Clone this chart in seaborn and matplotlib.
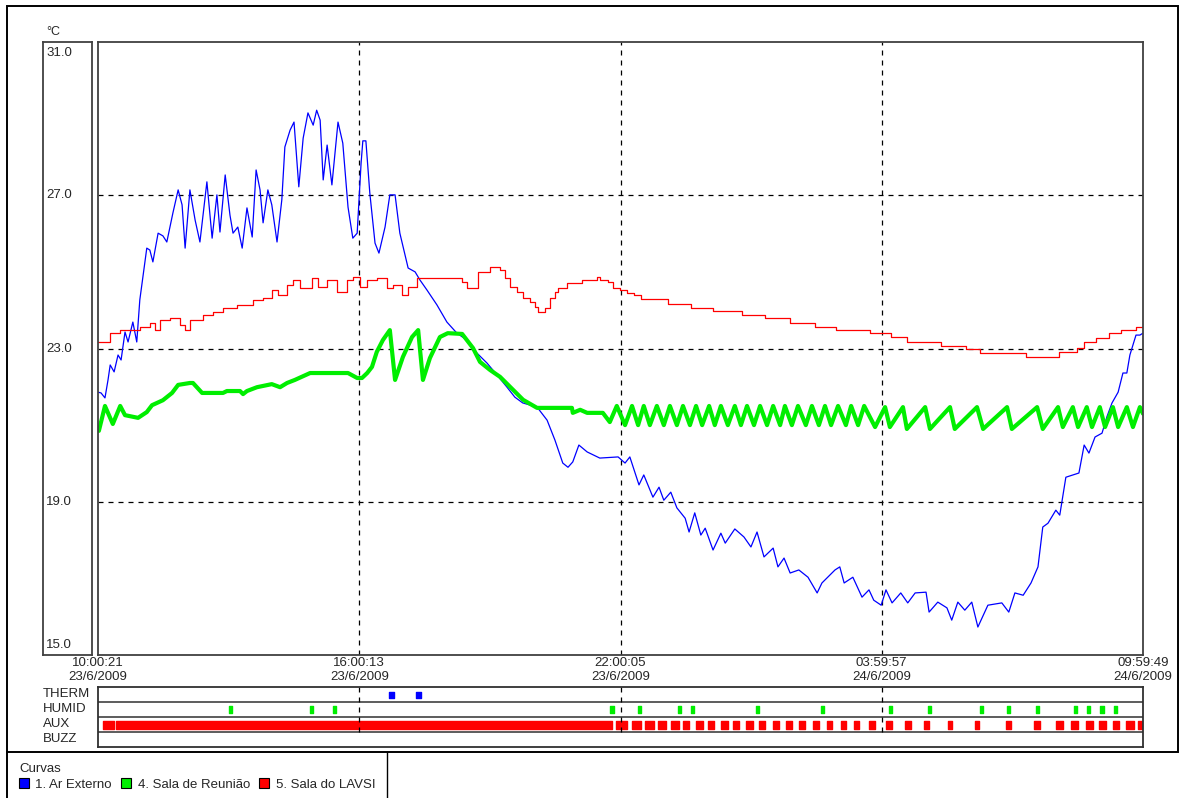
import pandas as pd
import seaborn as sns
import matplotlib.pyplot as plt
from matplotlib.patches import Patch, Rectangle
from matplotlib.lines import Line2D

# time axis: hours elapsed since 23/6/2009 10:00:21
ar_h = [0.00, 0.07, 0.16, 0.23, 0.28, 0.37, 0.46, 0.53, 0.62, 0.69, 0.80, 0.89, 0.96, 1.03,
        1.12, 1.19, 1.26, 1.38, 1.49, 1.58, 1.72, 1.84, 1.93, 2.00, 2.11, 2.23, 2.34, 2.50,
        2.62, 2.73, 2.80, 2.92, 3.03, 3.10, 3.21, 3.31, 3.42, 3.54, 3.63, 3.72, 3.79, 3.90,
        3.99, 4.11, 4.22, 4.29, 4.41, 4.50, 4.61, 4.71, 4.82, 4.94, 5.02, 5.10, 5.17, 5.26,
        5.37, 5.51, 5.62, 5.74, 5.85, 5.95, 6.04, 6.08, 6.15, 6.24, 6.36, 6.45, 6.59, 6.70,
        6.82, 6.93, 7.12, 7.28, 7.39, 7.55, 7.78, 8.01, 8.24, 8.47, 8.70, 8.93, 9.16, 9.39,
        9.57, 9.75, 10.08, 10.31, 10.49, 10.67, 10.79, 10.90, 11.04, 11.23, 11.52, 11.94,
        12.10, 12.21, 12.42, 12.53, 12.74, 12.88, 12.99, 13.15, 13.29, 13.48, 13.57, 13.70,
        13.84, 13.94, 14.12, 14.30, 14.40, 14.62, 14.83, 14.99, 15.13, 15.29, 15.50, 15.61,
        15.75, 15.89, 16.09, 16.30, 16.51, 16.62, 16.92, 17.03, 17.13, 17.33, 17.54, 17.70,
        17.81, 17.98, 18.09, 18.23, 18.43, 18.59, 18.76, 19.01, 19.08, 19.28, 19.49, 19.60,
        19.74, 19.90, 20.06, 20.20, 20.43, 20.75, 20.91, 21.05, 21.24, 21.42, 21.58, 21.69,
        21.81, 21.99, 22.08, 22.22, 22.52, 22.64, 22.75, 22.89, 23.05, 23.16, 23.28, 23.42,
        23.53, 23.62, 23.69, 23.83, 23.92, 23.99]
ar_t = [21.86, 21.84, 21.71, 22.18, 22.57, 22.39, 22.83, 22.70, 23.43, 23.17, 23.69, 23.17,
        24.27, 24.87, 25.62, 25.57, 25.26, 26.01, 25.94, 25.78, 26.54, 27.14, 26.75, 25.62,
        27.14, 26.35, 25.78, 27.35, 25.88, 27.01, 26.04, 27.53, 26.48, 26.01, 26.17, 25.62,
        26.67, 25.91, 27.66, 27.14, 26.28, 27.14, 26.75, 25.78, 26.88, 28.26, 28.70, 28.91,
        27.22, 28.49, 29.15, 28.83, 29.22, 28.96, 27.40, 28.31, 27.27, 28.91, 28.36, 26.69,
        25.88, 26.01, 27.84, 28.42, 28.42, 27.06, 25.75, 25.49, 26.17, 27.01, 27.01, 26.01,
        25.10, 25.00, 24.79, 24.53, 24.14, 23.69, 23.40, 23.22, 22.88, 22.62, 22.31, 21.99,
        21.73, 21.58, 21.47, 21.13, 20.61, 20.01, 19.90, 20.04, 20.48, 20.30, 20.14, 20.17,
        20.01, 20.17, 19.44, 19.70, 19.12, 19.38, 19.04, 19.25, 18.84, 18.57, 18.21, 18.71,
        18.13, 18.31, 17.74, 18.18, 17.92, 18.29, 18.08, 17.82, 18.21, 17.56, 17.79, 17.30,
        17.53, 17.14, 17.22, 17.03, 16.62, 16.88, 17.22, 17.30, 16.88, 17.03, 16.51, 16.70,
        16.43, 16.30, 16.70, 16.36, 16.62, 16.36, 16.62, 16.64, 16.12, 16.38, 16.23, 15.91,
        16.38, 16.17, 16.38, 15.73, 16.30, 16.36, 16.12, 16.62, 16.56, 16.88, 17.30, 18.34,
        18.44, 18.78, 18.65, 19.64, 19.75, 20.48, 20.27, 20.69, 20.79, 21.21, 21.58, 21.86,
        22.36, 22.36, 22.83, 23.35, 23.35, 23.40]

reu_h = [0.02, 0.16, 0.34, 0.51, 0.62, 0.92, 1.12, 1.24, 1.49, 1.70, 1.84, 2.11, 2.18, 2.39,
         2.87, 2.96, 3.26, 3.33, 3.42, 3.65, 3.99, 4.18, 4.34, 4.52, 4.87, 5.74, 5.95, 6.06,
         6.18, 6.29, 6.40, 6.54, 6.70, 6.82, 7.00, 7.21, 7.35, 7.46, 7.62, 7.85, 8.03, 8.36,
         8.61, 8.77, 9.00, 9.23, 9.53, 9.76, 10.08, 10.88, 10.90, 11.07, 11.23, 11.59, 11.75,
         11.91, 12.10, 12.26, 12.40, 12.53, 12.67, 12.83, 12.99, 13.13, 13.29, 13.43, 13.59,
         13.73, 13.87, 14.03, 14.16, 14.30, 14.46, 14.62, 14.76, 14.90, 15.06, 15.20, 15.36,
         15.50, 15.66, 15.77, 15.93, 16.07, 16.25, 16.39, 16.55, 16.69, 16.83, 16.99, 17.17,
         17.29, 17.45, 17.59, 17.84, 18.07, 18.18, 18.48, 18.57, 18.99, 19.10, 19.56, 19.67,
         20.18, 20.32, 20.87, 20.98, 21.56, 21.69, 22.04, 22.15, 22.38, 22.50, 22.70, 22.82,
         23.00, 23.12, 23.30, 23.42, 23.62, 23.76, 23.92, 23.99]
reu_t = [20.85, 21.50, 21.03, 21.50, 21.26, 21.19, 21.34, 21.52, 21.65, 21.84, 22.05, 22.10,
         22.10, 21.84, 21.84, 21.89, 21.89, 21.81, 21.89, 21.99, 22.07, 21.99, 22.10, 22.18,
         22.36, 22.36, 22.23, 22.23, 22.36, 22.52, 22.91, 23.22, 23.48, 22.18, 22.78, 23.30,
         23.48, 22.18, 22.75, 23.30, 23.40, 23.38, 23.01, 22.65, 22.44, 22.26, 21.92, 21.66,
         21.45, 21.45, 21.32, 21.40, 21.32, 21.32, 21.08,
         21.50, 21.00, 21.50, 21.00, 21.50, 21.00, 21.50, 21.00, 21.50, 21.00, 21.50, 21.00,
         21.50, 21.00, 21.50, 21.00, 21.50, 21.00, 21.50, 21.00, 21.50, 21.00, 21.50, 21.00,
         21.50, 21.00, 21.50, 21.00, 21.50, 21.00, 21.50, 21.00, 21.50, 21.00, 21.50, 21.00,
         21.50, 21.00, 21.50, 20.95, 21.47, 20.95, 21.47, 20.90, 21.47, 20.90, 21.47, 20.90,
         21.47, 20.90, 21.47, 20.90, 21.47, 20.90, 21.47, 20.95, 21.47, 20.95, 21.47, 20.95,
         21.47, 20.95, 21.47, 20.95, 21.47, 20.95, 21.47, 21.30]

lavsi_h = [0.00, 0.28, 0.51, 0.96, 1.19, 1.31, 1.42, 1.65, 1.88, 2.00, 2.11, 2.41, 2.64, 2.87,
           3.19, 3.56, 3.79, 3.99, 4.13, 4.34, 4.48, 4.64, 4.91, 5.05, 5.26, 5.49, 5.72, 5.85,
           6.01, 6.18, 6.40, 6.63, 6.77, 6.98, 7.12, 7.32, 8.36, 8.47, 8.72, 9.00, 9.23, 9.34,
           9.46, 9.62, 9.76, 9.92, 10.03, 10.10, 10.26, 10.38, 10.49, 10.56, 10.77, 11.11,
           11.46, 11.52, 11.71, 11.82, 11.98, 12.14, 12.30, 12.47, 13.09, 13.61, 14.12, 14.78,
           15.31, 15.89, 16.46, 16.94, 17.72, 18.20, 18.57, 19.35, 19.93, 20.25, 21.30, 22.06,
           22.48, 22.64, 22.91, 23.21, 23.49, 23.83, 23.99]
lavsi_t = [23.17, 23.40, 23.48, 23.56, 23.66, 23.48, 23.74, 23.80, 23.61, 23.48, 23.74, 23.87,
           23.95, 24.06, 24.13, 24.27, 24.32, 24.53, 24.40, 24.66, 24.79, 24.58, 24.84, 24.60,
           24.79, 24.47, 24.79, 24.87, 24.60, 24.79, 24.84, 24.58, 24.66, 24.40, 24.60, 24.84,
           24.73, 24.58, 25.00, 25.13, 25.05, 24.84, 24.60, 24.47, 24.32, 24.21, 24.08, 23.95,
           24.06, 24.32, 24.47, 24.58, 24.71, 24.79, 24.87, 24.79, 24.73, 24.58, 24.53, 24.45,
           24.40, 24.29, 24.16, 24.06, 23.98, 23.87, 23.80, 23.66, 23.56, 23.48, 23.40, 23.30,
           23.17, 23.06, 22.99, 22.88, 22.78, 22.91, 23.01, 23.17, 23.27, 23.40, 23.48, 23.56,
           23.56]

therm_h = [6.73, 7.35]
humid_h = [3.05, 4.91, 5.44, 11.80, 12.44, 13.34, 13.64, 15.15, 16.64, 18.20, 19.10, 20.29,
           20.91, 21.56, 22.45, 22.75, 23.05, 23.35]
aux_on = [0.11, 0.41, 11.89, 12.26, 12.56, 12.86, 13.15, 13.43, 13.73, 14.00, 14.30, 14.58,
          14.88, 15.17, 15.50, 15.79, 16.09, 16.41, 16.74, 17.06, 17.36, 17.70, 18.09, 18.53,
          18.96, 19.51, 20.13, 20.84, 21.49, 21.99, 22.34, 22.68, 22.98, 23.30, 23.60, 23.88]
aux_off = [0.37, 11.80, 12.14, 12.47, 12.76, 13.04, 13.34, 13.57, 13.89, 14.14, 14.46, 14.72,
           15.04, 15.31, 15.63, 15.93, 16.23, 16.55, 16.85, 17.17, 17.47, 17.84, 18.23, 18.66,
           19.08, 19.61, 20.22, 20.96, 21.63, 22.15, 22.50, 22.84, 23.14, 23.44, 23.78, 23.97]

tick_h = [0, 5.998, 11.996, 17.993, 23.991]
tick_lbl = ["10:00:21\n23/6/2009", "16:00:13\n23/6/2009", "22:00:05\n23/6/2009",
            "03:59:57\n24/6/2009", "09:59:49\n24/6/2009"]
y_ticks = [15, 19, 23, 27, 31]
rows = ["THERM", "HUMID", "AUX", "BUZZ"]

BLUE, GREEN, RED = "#0000FF", "#00EE00", "#FF0000"

sns.set_style("white")
plt.rcParams['font.family'] = ['Liberation Sans', 'DejaVu Sans']
FS = 9.5

W, H = 1180, 798
fig = plt.figure(figsize=(11.8, 7.98), dpi=100)


def box(x0, y0, x1, y1):
    return [x0 / W, 1 - y1 / H, (x1 - x0) / W, (y1 - y0) / H]


# main chart
ax = fig.add_axes(box(98, 42, 1143, 655))
sns.lineplot(x=ar_h, y=ar_t, ax=ax, color=BLUE, lw=0.9, sort=False, estimator=None)
sns.lineplot(x=reu_h, y=reu_t, ax=ax, color=GREEN, lw=3.0, sort=False, estimator=None)
sns.lineplot(x=lavsi_h, y=lavsi_t, ax=ax, color=RED, lw=0.9, sort=False, estimator=None,
             drawstyle="steps-post")
for h in tick_h[1:-1]:
    ax.axvline(h, color="black", lw=0.9, ls=(0, (4, 4)), zorder=0)
for v in y_ticks[1:-1]:
    ax.axhline(v, color="black", lw=0.9, ls=(0, (4, 4)), zorder=0)
ax.set_xlim(tick_h[0], tick_h[-1])
ax.set_ylim(15, 31)
ax.set_yticks([])
ax.set_xticks(tick_h, tick_lbl)
ax.tick_params(axis="x", length=0, pad=1.5, labelsize=FS)
for s in ax.spines.values():
    s.set_color("#404040")
    s.set_linewidth(1.3)

# y scale box
ay = fig.add_axes(box(43, 42, 92, 655))
ay.set_ylim(15, 31)
ay.set_xticks([])
ay.set_yticks([])
for s in ay.spines.values():
    s.set_color("#404040")
    s.set_linewidth(1.3)
for v in y_ticks:
    va = "top" if v == 31 else ("bottom" if v == 15 else "center")
    yy = v - 0.12 if v == 31 else (v + 0.1 if v == 15 else v)
    ay.text(0.07, yy, f"{v:.1f}", transform=ay.get_yaxis_transform(), va=va, ha="left",
            fontsize=FS)
fig.text(46 / W, 1 - 32 / H, "°C", fontsize=FS - 0.5, va="center", ha="left")

# event strip
ae = fig.add_axes(box(98, 687, 1143, 747))
ae.set_xlim(tick_h[0], tick_h[-1])
ae.set_ylim(4, 0)
ae.set_xticks([])
ae.set_yticks([])
for s in ae.spines.values():
    s.set_color("#303030")
    s.set_linewidth(1.3)
for r in [1, 2, 3]:
    ae.axhline(r, color="#303030", lw=1.1)
ae.vlines(tick_h[1:-1], 0, 3, color="black", lw=0.9, ls=(0, (4, 4)))
ae.broken_barh([(h - 0.06, 0.12) for h in therm_h], (0.32, 0.4), color=BLUE)
ae.broken_barh([(h - 0.035, 0.07) for h in humid_h], (1.27, 0.46), color=GREEN)
ae.broken_barh([(a, b - a) for a, b in zip(aux_on, aux_off)], (2.25, 0.52), color=RED)
for i, name in enumerate(rows):
    fig.text(43 / W, 1 - (694 + 15 * i) / H, name, fontsize=FS, va="center", ha="left")

# window frame
fig.add_artist(Rectangle((7 / W, 1 - 752 / H), 1171 / W, 746 / H, transform=fig.transFigure,
                         fill=False, ec="black", lw=1.4))
fig.add_artist(Line2D([7 / W, 7 / W], [0, 1 - 752 / H], transform=fig.transFigure,
                      color="black", lw=1.4))
fig.add_artist(Line2D([387 / W, 387 / W], [0, 1 - 752 / H], transform=fig.transFigure,
                      color="black", lw=1.0))

handles = [Patch(fc=BLUE, ec="black", lw=0.8, label="1. Ar Externo"),
           Patch(fc=GREEN, ec="black", lw=0.8, label="4. Sala de Reunião"),
           Patch(fc=RED, ec="black", lw=0.8, label="5. Sala do LAVSI")]
fig.legend(handles=handles, loc="upper left", bbox_to_anchor=(19 / W, 1 - 763 / H), ncol=3,
           frameon=False, title="Curvas", alignment="left", fontsize=FS, title_fontsize=FS,
           handlelength=0.75, handleheight=0.75, handletextpad=0.5, columnspacing=0.7,
           borderpad=0, borderaxespad=0, labelspacing=0.25)

fig.savefig("out.png", dpi=100, facecolor="white")
